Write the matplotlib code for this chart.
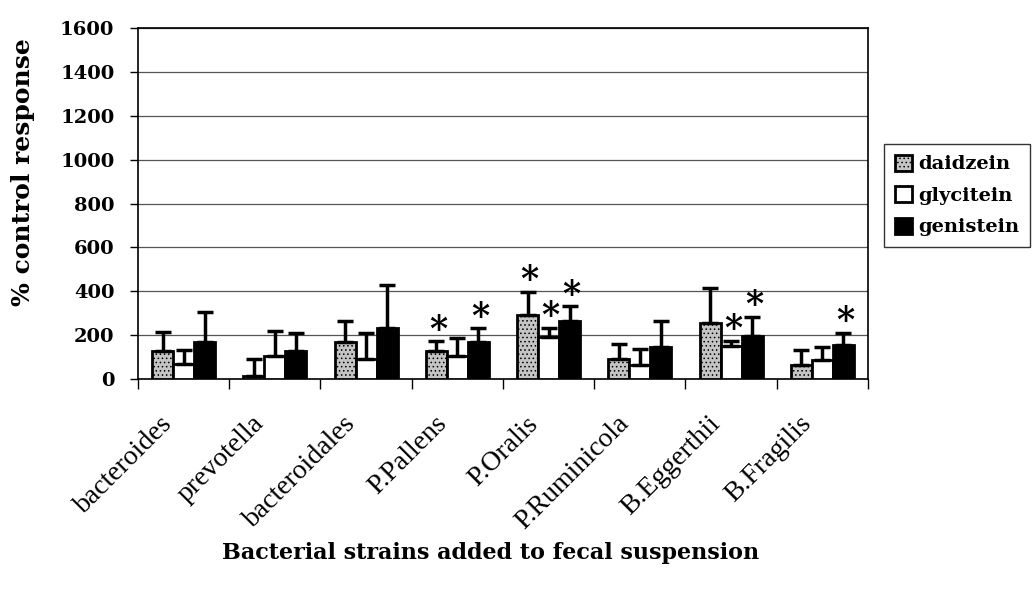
import matplotlib
matplotlib.use("Agg")
import matplotlib.pyplot as plt
import matplotlib.transforms as mtransforms
import numpy as np

plt.rcParams['font.family'] = ['DejaVu Serif']
plt.rcParams['hatch.linewidth'] = 0.6

strains = ['bacteroides', 'prevotella', 'bacteroidales', 'P.Pallens', 'P.Oralis',
           'P.Ruminicola', 'B.Eggerthii', 'B.Fragilis']
compounds = ['daidzein', 'glycitein', 'genistein']

daidzein = [128, 14, 169, 128, 293, 90, 254, 64]
glycitein = [69, 105, 90, 107, 194, 64, 151, 87]
genistein = [168, 128, 235, 171, 265, 145, 198, 157]

daidzein_err = [85, 79, 98, 45, 105, 70, 163, 69]
glycitein_err = [62, 114, 122, 82, 40, 72, 24, 61]
genistein_err = [138, 82, 195, 60, 66, 122, 87, 55]

# asterisk flags (significant) per compound
daidzein_sig = [0, 0, 0, 1, 1, 0, 0, 0]
glycitein_sig = [0, 0, 0, 0, 1, 0, 1, 0]
genistein_sig = [0, 0, 0, 1, 1, 0, 1, 1]

values = [daidzein, glycitein, genistein]
errors = [daidzein_err, glycitein_err, genistein_err]
sigs = [daidzein_sig, glycitein_sig, genistein_sig]
fills = ['#c4c4c4', 'white', 'black']
hatches = ['....', None, None]

fig = plt.figure(figsize=(10.33, 5.97), dpi=100)
ax = fig.add_axes([0.1336, 0.365, 0.7066, 0.588])

x = np.arange(len(strains)) + 0.5
w = 0.23
for k in range(3):
    pos = x + (k - 1) * w
    ax.bar(pos, values[k], width=w, color=fills[k], edgecolor='black', linewidth=2,
           hatch=hatches[k], label=compounds[k], zorder=3)
    ax.errorbar(pos, values[k], yerr=[np.zeros(len(strains)), errors[k]], fmt='none',
                ecolor='black', elinewidth=2.5, capsize=5.5, capthick=2.5, zorder=4)
    for i, s in enumerate(sigs[k]):
        if s:
            ax.text(pos[i] + 0.02, values[k][i] + errors[k][i] - 25, '*', ha='center',
                    va='bottom', fontsize=25, fontweight='bold', zorder=5)

ax.set_xlim(0, len(strains))
ax.set_ylim(0, 1600)
ax.set_yticks(np.arange(0, 1601, 200))
ax.set_xticks(np.arange(0, len(strains) + 1))
ax.set_xticklabels([])
ax.tick_params(axis='x', which='major', length=7, width=1, direction='out')
ax.tick_params(axis='y', labelsize=14, length=6, width=1, direction='out', pad=11)
for lab in ax.get_yticklabels():
    lab.set_fontweight('bold')
ax.grid(axis='y', color='#555555', linewidth=0.9, zorder=0)
for sp in ax.spines.values():
    sp.set_linewidth(1.2)

# rotated category labels
trans = mtransforms.blended_transform_factory(ax.transData, ax.transAxes)
for xi, name in zip(x, strains):
    ax.text(xi - 0.16, -0.117, name, transform=trans, rotation=45, ha='right',
            va='center', rotation_mode='anchor', fontsize=20, family='Liberation Serif')

fig.text(23 / 1033, 1 - 172 / 597, '% control response', rotation=90, ha='center',
         va='center', fontsize=18, fontweight='bold')
fig.text(491 / 1033, 1 - 553 / 597, 'Bacterial strains added to fecal suspension',
         ha='center', va='center', fontsize=16, fontweight='bold')

leg = ax.legend(loc='center left', bbox_to_anchor=(1.022, 0.523), frameon=True,
                fancybox=False, edgecolor='black', prop={'size': 14, 'weight': 'bold'},
                handlelength=0.9, handleheight=0.9, handletextpad=0.3,
                labelspacing=0.65, borderpad=0.55, borderaxespad=0)
leg.get_frame().set_linewidth(1)

fig.savefig('out.png', dpi=100)
